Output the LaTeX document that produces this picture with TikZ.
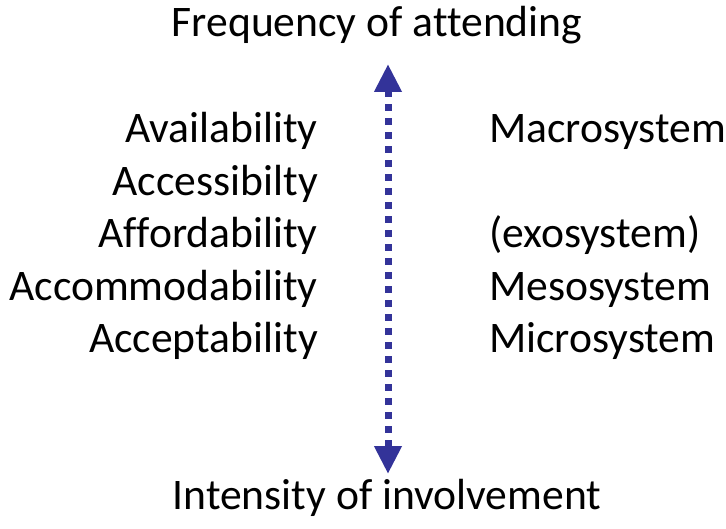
\documentclass[tikz,border=0pt]{standalone}
\usepackage{fontspec}
\setmainfont[Ligatures=NoCommon]{Carlito}
\usetikzlibrary{arrows.meta}
\definecolor{arrowblue}{RGB}{51,51,153}
\begin{document}
\begin{tikzpicture}[x=1pt,y=-1pt,
  lbl/.style={inner sep=0pt,font=\fontsize{43.6}{52}\selectfont},
  leftlbl/.style={lbl,anchor=base east},
  rightlbl/.style={lbl,anchor=base west},
  axislbl/.style={lbl,anchor=base},
  scale arrow/.style={arrowblue,line width=7pt,dash pattern=on 7pt off 7pt,
    {Triangle[length=28pt,width=26pt]}-{Triangle[length=28pt,width=26pt]}}]
\useasboundingbox (0,0) rectangle (726,529);
% axis labels
\node[axislbl] (freq) at (377,37) {Frequency of attending};
\node[axislbl] (inten) at (387,509) {Intensity of involvement};
% vertical double arrow
\coordinate (top) at (388,64);
\coordinate (bot) at (388,474);
\draw[scale arrow] (top) -- (bot);
% left column
\node[leftlbl] (avail) at (318,143) {Availability};
\node[leftlbl] (access) at (318,196) {Accessibilty};
\node[leftlbl] (afford) at (318,248) {Affordability};
\node[leftlbl] (accom) at (318,301) {Accommodability};
\node[leftlbl] (accept) at (318,353) {Acceptability};
% right column
\node[rightlbl] (macro) at (489,143) {Macrosystem};
\node[rightlbl] (exo) at (489,248) {(exosystem)};
\node[rightlbl] (meso) at (489,301) {Mesosystem};
\node[rightlbl] (micro) at (489,353) {Microsystem};
\end{tikzpicture}
\end{document}
